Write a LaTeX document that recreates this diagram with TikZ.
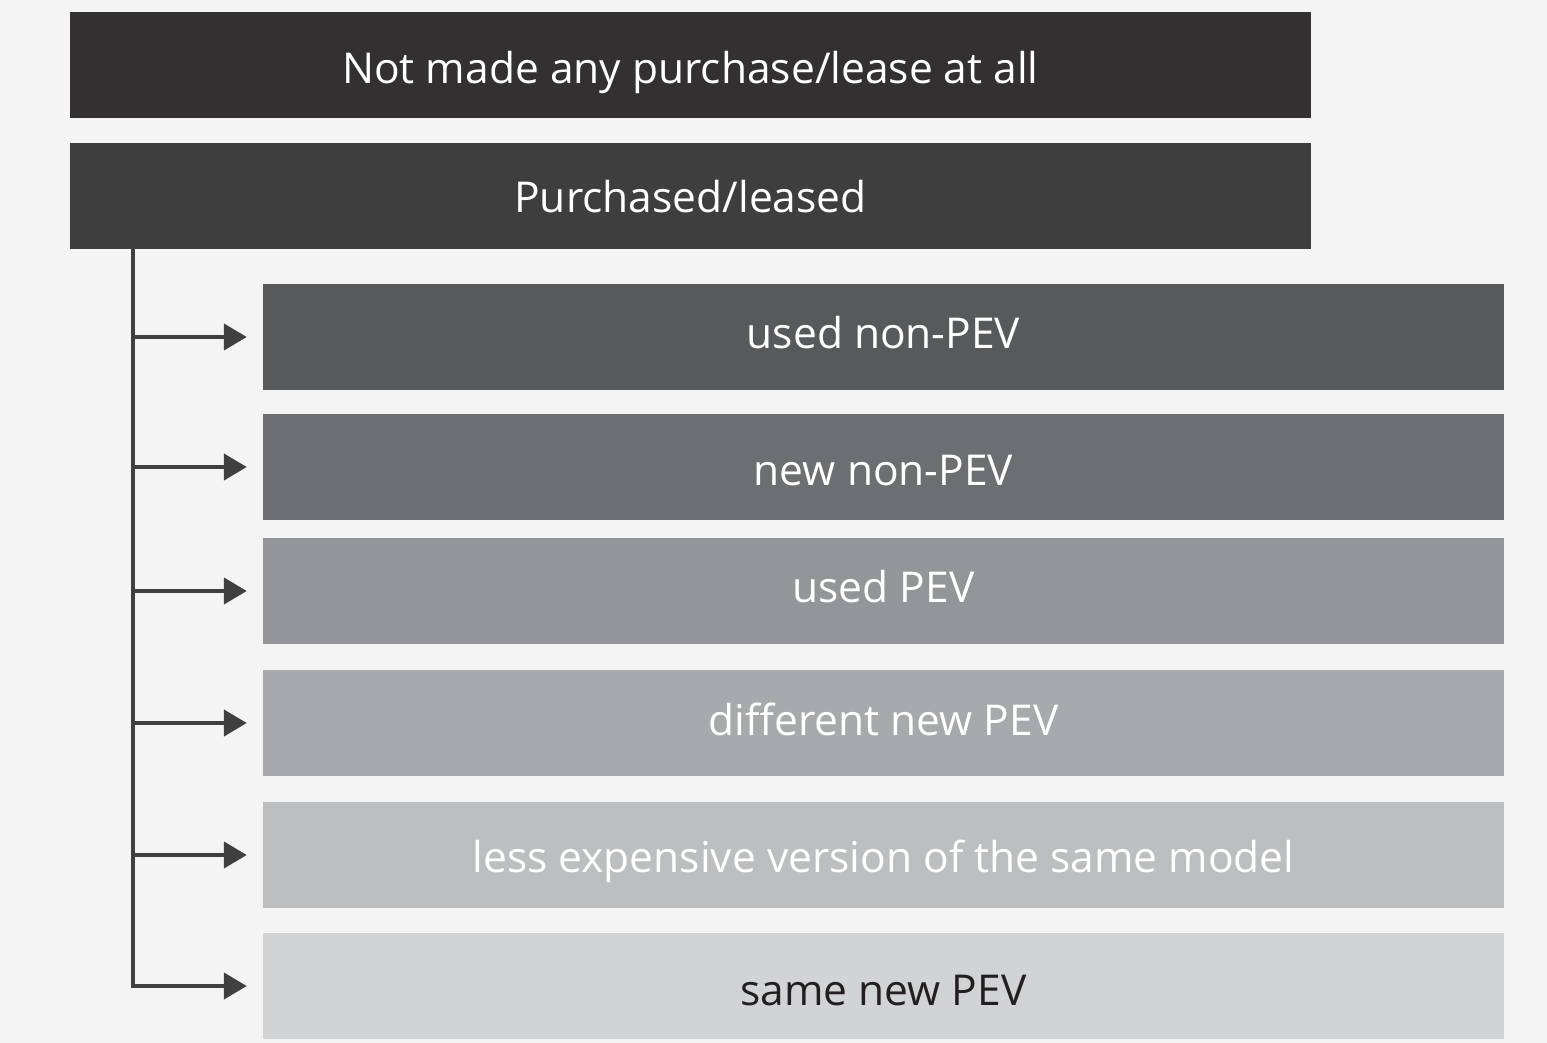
\documentclass[tikz,border=0pt]{standalone}
\usepackage{fontspec}
\setmainfont{Open Sans}
\usetikzlibrary{arrows.meta}
\definecolor{bg}{HTML}{F4F4F4}
\definecolor{cA}{HTML}{323031}
\definecolor{cB}{HTML}{3E3E3E}
\definecolor{c1}{HTML}{58595B}
\definecolor{c2}{HTML}{6D6E71}
\definecolor{c3}{HTML}{939598}
\definecolor{c4}{HTML}{A7A9AC}
\definecolor{c5}{HTML}{BCBEC0}
\definecolor{c6}{HTML}{D1D3D4}
\definecolor{ink}{HTML}{231F20}
\definecolor{wire}{HTML}{404040}
\begin{document}
\begin{tikzpicture}[x=1pt,y=-1pt,
  bar/.style={rectangle,inner sep=0pt,minimum width=1241pt,minimum height=106pt,
    text height=37pt,text depth=0pt,
    text=white,font=\fontsize{42.5}{50}\selectfont},
  link/.style={wire,line width=4.5pt,-{Triangle[length=23pt,width=26pt]}}]
\fill[bg] (0,0) rectangle (1547,1043);
\useasboundingbox (0,0) rectangle (1547,1043);
% top-level categories
\node[bar,fill=cA] (none) at (690.5,65) {Not made any purchase/lease at all};
\node[bar,fill=cB,text height=34pt] (bought) at (690.5,196) {Purchased/leased};
% kinds of vehicle acquired
\node[bar,fill=c1,text height=23pt] (k1) at (883.5,337) {used non-PEV};
\node[bar,fill=c2,text height=36pt] (k2) at (883.5,467) {new non-PEV};
\node[bar,fill=c3,text height=23pt] (k3) at (883.5,591) {used PEV};
\node[bar,fill=c4,text height=24pt] (k4) at (883.5,723) {different new PEV};
\node[bar,fill=c5,text height=34pt] (k5) at (883.5,855) {less expensive version of the same model};
\node[bar,fill=c6,text=ink,text height=38pt] (k6) at (883.5,986) {same new PEV};
% branch line down the left side
\coordinate (top) at (133,249);
\draw[link] (top) |- ([xshift=-16pt]k6.west);
\foreach \k in {k1,k2,k3,k4,k5}
  \draw[link] (133,0 |- \k.west) -- ([xshift=-16pt]\k.west);
\end{tikzpicture}
\end{document}
